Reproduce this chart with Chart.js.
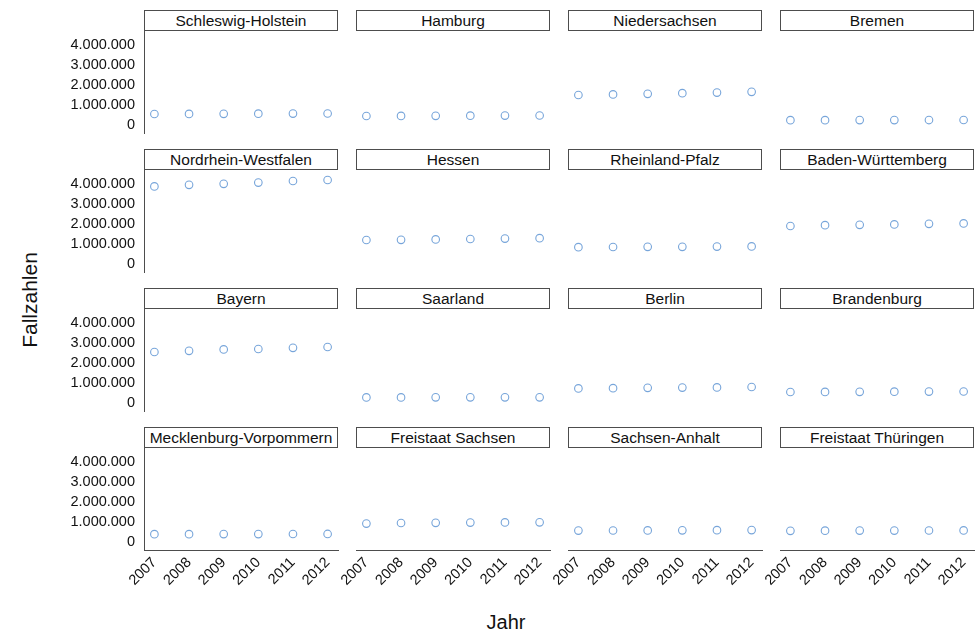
<!DOCTYPE html>
<html lang="de">
<head>
<meta charset="utf-8">
<script src="https://cdn.jsdelivr.net/npm/chart.js@4.4.0/dist/chart.umd.min.js"></script>
<style>
  body{margin:0;background:#fff;font-family:"Liberation Sans",Arial,sans-serif;}
  #wrap{position:relative;width:979px;height:639px;overflow:hidden;}
  .strip{position:absolute;box-sizing:border-box;border:1px solid #4d4d4d;background:#fff;height:21px;line-height:19px;text-align:center;font-size:15.5px;color:#111;white-space:nowrap;}
  canvas{position:absolute;}
  .axis-title{position:absolute;color:#111;white-space:nowrap;}
  #yTitle{left:30px;top:300px;font-size:21px;transform:translate(-50%,-50%) rotate(-90deg);}
  #xTitle{left:506px;top:622px;font-size:20px;transform:translate(-50%,-50%);}
</style>
</head>
<body>
<div id="wrap">
  <div class="axis-title" id="yTitle">Fallzahlen</div>
  <div class="axis-title" id="xTitle">Jahr</div>
</div>
<script>
// Jahre, Bundesländer und Achsenmarken
const years = [2007, 2008, 2009, 2010, 2011, 2012];
const states = [
  'Schleswig-Holstein', 'Hamburg', 'Niedersachsen', 'Bremen',
  'Nordrhein-Westfalen', 'Hessen', 'Rheinland-Pfalz', 'Baden-Württemberg',
  'Bayern', 'Saarland', 'Berlin', 'Brandenburg',
  'Mecklenburg-Vorpommern', 'Freistaat Sachsen', 'Sachsen-Anhalt', 'Freistaat Thüringen'
];
const yTicks = [0, 1000000, 2000000, 3000000, 4000000];

// Fallzahlen je Land, 2007-2012
const schleswigHolstein   = [550000, 555000, 560000, 565000, 570000, 575000];
const hamburg             = [450000, 455000, 460000, 465000, 470000, 475000];
const niedersachsen       = [1500000, 1530000, 1560000, 1590000, 1620000, 1660000];
const bremen              = [240000, 242000, 244000, 246000, 248000, 250000];
const nordrheinWestfalen  = [3880000, 3960000, 4010000, 4070000, 4150000, 4200000];
const hessen              = [1200000, 1210000, 1230000, 1250000, 1270000, 1290000];
const rheinlandPfalz      = [840000, 850000, 860000, 860000, 870000, 880000];
const badenWuerttemberg   = [1900000, 1940000, 1960000, 1980000, 2010000, 2030000];
const bayern              = [2550000, 2610000, 2680000, 2700000, 2760000, 2800000];
const saarland            = [280000, 280000, 282000, 282000, 284000, 284000];
const berlin              = [730000, 740000, 760000, 770000, 780000, 800000];
const brandenburg         = [550000, 555000, 560000, 565000, 570000, 575000];
const mecklenburgVorpommern = [390000, 392000, 395000, 397000, 400000, 402000];
const freistaatSachsen    = [920000, 950000, 960000, 970000, 980000, 985000];
const sachsenAnhalt       = [570000, 575000, 580000, 585000, 590000, 595000];
const freistaatThueringen = [560000, 565000, 570000, 572000, 575000, 580000];

const values = [
  schleswigHolstein, hamburg, niedersachsen, bremen,
  nordrheinWestfalen, hessen, rheinlandPfalz, badenWuerttemberg,
  bayern, saarland, berlin, brandenburg,
  mecklenburgVorpommern, freistaatSachsen, sachsenAnhalt, freistaatThueringen
];

const fmt = v => String(v).replace(/\B(?=(\d{3})+(?!\d))/g, '.');

// facet geometry
const PLOT_W = 194, PLOT_H = 102, STRIP_H = 21;
const AXIS_W = 100, AXIS_H = 60, PAD_R = 10;
const colLeft = c => 144 + c * 212;
const rowTop = r => 10 + r * 139;

const wrap = document.getElementById('wrap');
const font = {family: '"Liberation Sans", Arial, sans-serif', size: 14.5};

states.forEach((name, i) => {
  const r = Math.floor(i / 4), c = i % 4;
  const left = colLeft(c), top = rowTop(r);

  const strip = document.createElement('div');
  strip.className = 'strip';
  strip.style.left = left + 'px';
  strip.style.top = top + 'px';
  strip.style.width = PLOT_W + 'px';
  strip.textContent = name;
  wrap.appendChild(strip);

  const cv = document.createElement('canvas');
  const w = AXIS_W + PLOT_W + PAD_R, h = PLOT_H + AXIS_H;
  cv.width = w; cv.height = h;
  cv.style.width = w + 'px'; cv.style.height = h + 'px';
  cv.style.left = (left - AXIS_W) + 'px';
  cv.style.top = (top + STRIP_H) + 'px';
  wrap.appendChild(cv);

  const firstCol = c === 0, lastRow = r === 3;

  new Chart(cv, {
    type: 'scatter',
    data: {
      datasets: [{
        data: years.map((y, k) => ({x: y, y: values[i][k]})),
        pointStyle: 'circle',
        pointRadius: 3.8,
        pointHoverRadius: 3.8,
        pointBorderWidth: 1.1,
        borderColor: '#77a5da',
        backgroundColor: 'rgba(0,0,0,0)',
        clip: false
      }]
    },
    options: {
      responsive: false,
      animation: false,
      events: [],
      layout: {autoPadding: false, padding: {right: PAD_R, left: 0, top: 0, bottom: 0}},
      plugins: {legend: {display: false}, tooltip: {enabled: false}},
      scales: {
        x: {
          type: 'linear',
          min: 2006.7, max: 2012.3,
          afterBuildTicks: s => { s.ticks = years.map(v => ({value: v})); },
          afterFit: s => { s.height = AXIS_H; s.paddingLeft = 0; s.paddingRight = 0; },
          grid: {display: false, drawTicks: false},
          border: {display: lastRow, color: '#4d4d4d', width: 1},
          ticks: {
            display: lastRow,
            autoSkip: false,
            minRotation: 45, maxRotation: 45,
            padding: 4,
            color: '#111',
            font,
            callback: v => String(v)
          }
        },
        y: {
          type: 'linear',
          min: -400000, max: 4700000,
          afterBuildTicks: s => { s.ticks = yTicks.map(v => ({value: v})); },
          afterFit: s => { s.width = AXIS_W; s.paddingTop = 0; s.paddingBottom = 0; },
          grid: {display: false, drawTicks: false},
          border: {display: firstCol, color: '#4d4d4d', width: 1},
          ticks: {
            display: firstCol,
            padding: 9,
            color: '#111',
            font,
            callback: v => fmt(v)
          }
        }
      }
    }
  });
});
</script>
</body>
</html>
